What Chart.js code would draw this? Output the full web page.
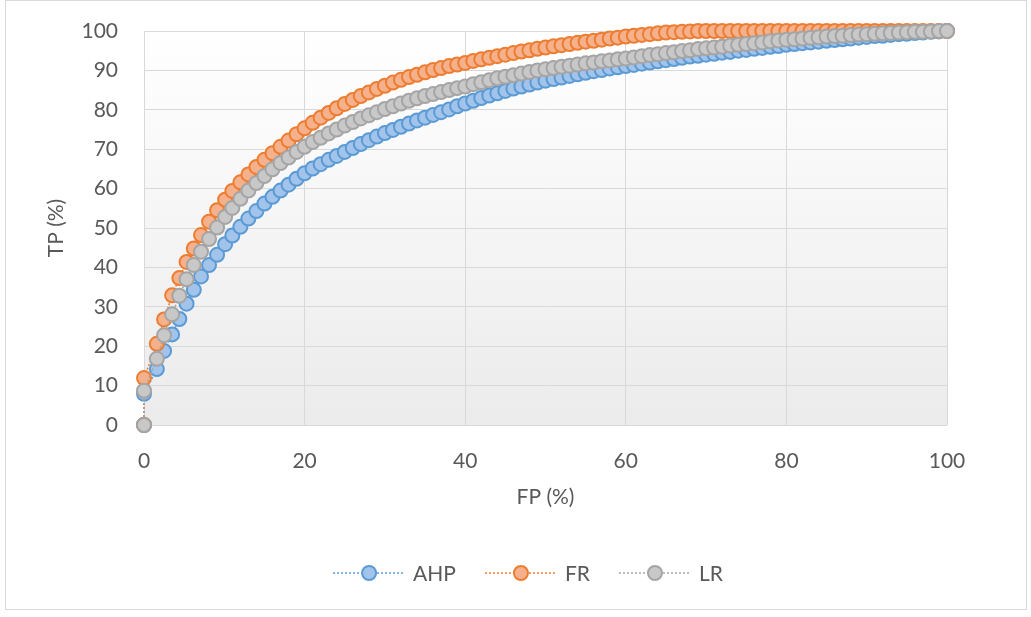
<!DOCTYPE html>
<html>
<head>
<meta charset="utf-8">
<title>ROC</title>
<script src="https://cdn.jsdelivr.net/npm/chart.js@4.4.1/dist/chart.umd.min.js"></script>
<style>
  html, body { margin: 0; padding: 0; background: #ffffff; }
  #wrap { width: 1031px; height: 617px; }
</style>
</head>
<body>
<div id="wrap"><canvas id="rocChart" width="1031" height="617"></canvas></div>
<script>
// false positive rate (%) shared by all three curves
var fp = [0, 0,
  1.6, 2.5, 3.5, 4.4, 5.3, 6.2, 7.1, 8.1, 9.1, 10.1,
  11, 12, 13, 14, 15, 16, 17, 18, 19, 20,
  21, 22, 23, 24, 25, 26, 27, 28, 29, 30,
  31, 32, 33, 34, 35, 36, 37, 38, 39, 40,
  41, 42, 43, 44, 45, 46, 47, 48, 49, 50,
  51, 52, 53, 54, 55, 56, 57, 58, 59, 60,
  61, 62, 63, 64, 65, 66, 67, 68, 69, 70,
  71, 72, 73, 74, 75, 76, 77, 78, 79, 80,
  81, 82, 83, 84, 85, 86, 87, 88, 89, 90,
  91, 92, 93, 94, 95, 96, 97, 98, 99, 100];

// true positive rate (%) per model
var tpAHP = [0, 7.9,
  14.2, 18.8, 23.0, 26.9, 30.8, 34.3, 37.7, 40.6, 43.2, 45.9,
  48.1, 50.3, 52.4, 54.3, 56.2, 57.9, 59.5, 61.0, 62.5, 63.9,
  65.1, 66.2, 67.3, 68.3, 69.3, 70.3, 71.3, 72.3, 73.2, 74.1,
  74.9, 75.7, 76.5, 77.3, 78.0, 78.7, 79.4, 80.1, 80.9, 81.6,
  82.3, 83.0, 83.6, 84.2, 84.8, 85.4, 85.9, 86.4, 86.9, 87.4,
  87.8, 88.2, 88.6, 89.0, 89.4, 89.8, 90.1, 90.5, 90.8, 91.1,
  91.4, 91.7, 92.0, 92.3, 92.6, 92.9, 93.2, 93.5, 93.7, 94.0,
  94.2, 94.5, 94.7, 95.0, 95.2, 95.5, 95.7, 96.0, 96.2, 96.5,
  96.7, 96.9, 97.1, 97.3, 97.5, 97.7, 97.9, 98.1, 98.3, 98.5,
  98.7, 98.8, 99.0, 99.2, 99.3, 99.5, 99.6, 99.8, 99.9, 100];

var tpFR = [0, 11.9,
  20.6, 26.8, 32.9, 37.3, 41.4, 44.8, 48.2, 51.6, 54.5, 57.2,
  59.4, 61.6, 63.6, 65.5, 67.3, 69.0, 70.6, 72.2, 73.8, 75.3,
  76.7, 78.0, 79.2, 80.4, 81.5, 82.5, 83.5, 84.4, 85.3, 86.1,
  86.9, 87.6, 88.3, 88.9, 89.5, 90.1, 90.6, 91.1, 91.5, 91.9,
  92.4, 92.8, 93.2, 93.6, 94.0, 94.4, 94.8, 95.1, 95.5, 95.8,
  96.1, 96.4, 96.7, 97.0, 97.3, 97.5, 97.8, 98.1, 98.3, 98.6,
  98.8, 99.0, 99.2, 99.4, 99.6, 99.7, 99.8, 99.9, 100, 100,
  100, 100, 100, 100, 100, 100, 100, 100, 100, 100,
  100, 100, 100, 100, 100, 100, 100, 100, 100, 100,
  100, 100, 100, 100, 100, 100, 100, 100, 100, 100];

var tpLR = [0, 8.7,
  16.8, 22.8, 28.1, 32.8, 37.0, 40.6, 44.0, 47.2, 50.1, 52.8,
  55.1, 57.4, 59.5, 61.4, 63.2, 64.9, 66.5, 67.9, 69.3, 70.6,
  71.8, 72.9, 74.0, 75.0, 76.0, 76.9, 77.8, 78.6, 79.4, 80.2,
  80.9, 81.6, 82.3, 82.9, 83.5, 84.0, 84.5, 85.0, 85.5, 85.9,
  86.5, 87.0, 87.5, 88.0, 88.4, 88.8, 89.2, 89.6, 90.0, 90.3,
  90.6, 90.9, 91.2, 91.5, 91.8, 92.0, 92.3, 92.5, 92.8, 93.0,
  93.3, 93.6, 93.9, 94.1, 94.4, 94.6, 94.9, 95.1, 95.4, 95.6,
  95.8, 96.0, 96.3, 96.5, 96.7, 96.9, 97.1, 97.4, 97.6, 97.8,
  97.9, 98.1, 98.3, 98.4, 98.6, 98.7, 98.8, 99.0, 99.1, 99.2,
  99.3, 99.4, 99.5, 99.6, 99.7, 99.8, 99.8, 99.9, 100, 100];

var seriesNames = ['AHP', 'FR', 'LR'];
var lineColors = ['#5b9bd5', '#ed7d31', '#a5a5a5'];
var fillColors = ['#a2c3ea', '#f5b08c', '#c8c8c8'];

function pairs(ys) {
  return fp.map(function (x, i) { return { x: x, y: ys[i] }; });
}

Chart.defaults.font.family = 'Lato';
Chart.defaults.font.size = 21;
Chart.defaults.color = '#595959';

// light grey fade behind the plot + thin frame round the whole chart
var backdrop = {
  id: 'backdrop',
  beforeDraw: function (chart) {
    var ctx = chart.ctx, a = chart.chartArea;
    ctx.save();
    var g = ctx.createLinearGradient(0, a.top, 0, a.bottom);
    g.addColorStop(0, '#ffffff');
    g.addColorStop(1, '#ebebeb');
    ctx.fillStyle = g;
    ctx.fillRect(a.left, a.top, a.right - a.left, a.bottom - a.top);
    ctx.strokeStyle = '#d9d9d9';
    ctx.lineWidth = 1;
    ctx.strokeRect(5.5, 0.5, 1021, 609);
    ctx.restore();
  }
};

// legend with a dotted line through each marker
var lineLegend = {
  id: 'lineLegend',
  afterDraw: function (chart) {
    var ctx = chart.ctx;
    var y = 573, lineLen = 72, gapText = 8, gapItem = 29, centre = 528;
    ctx.save();
    ctx.font = '21px Lato';
    ctx.textBaseline = 'middle';
    var widths = chart.data.datasets.map(function (d) { return ctx.measureText(d.label).width; });
    var total = 0;
    widths.forEach(function (w, i) { total += lineLen + gapText + w + (i ? gapItem : 0); });
    var x = centre - total / 2;
    chart.data.datasets.forEach(function (d, i) {
      ctx.strokeStyle = d.borderColor;
      ctx.lineWidth = 1.5;
      ctx.setLineDash([2, 2]);
      ctx.beginPath();
      ctx.moveTo(x, y);
      ctx.lineTo(x + lineLen, y);
      ctx.stroke();
      ctx.setLineDash([]);
      ctx.beginPath();
      ctx.arc(x + lineLen / 2, y, 7, 0, Math.PI * 2);
      ctx.fillStyle = d.pointBackgroundColor;
      ctx.fill();
      ctx.lineWidth = 2;
      ctx.stroke();
      ctx.fillStyle = '#595959';
      ctx.fillText(d.label, x + lineLen + gapText, y + 1);
      x += lineLen + gapText + widths[i] + gapItem;
    });
    ctx.restore();
  }
};

var datasets = [tpAHP, tpFR, tpLR].map(function (ys, i) {
  return {
    label: seriesNames[i],
    data: pairs(ys),
    showLine: true,
    borderColor: lineColors[i],
    borderWidth: 1.5,
    borderDash: [2, 2],
    pointRadius: 7,
    pointHoverRadius: 7,
    pointBorderWidth: 2,
    pointBorderColor: lineColors[i],
    pointBackgroundColor: fillColors[i],
    clip: false,
    order: 3 - i
  };
});

var rocChart = new Chart(document.getElementById('rocChart').getContext('2d'), {
  type: 'scatter',
  data: { datasets: datasets },
  options: {
    responsive: false,
    animation: false,
    devicePixelRatio: 1,
    layout: { padding: { left: 0, top: 31, right: 84, bottom: 92 } },
    plugins: { legend: { display: false }, tooltip: { enabled: false } },
    scales: {
      x: {
        type: 'linear',
        min: 0,
        max: 100,
        afterFit: function (s) { s.height = 100; },
        ticks: { stepSize: 20, padding: 24 },
        grid: { color: '#d9d9d9', drawTicks: false },
        border: { display: false },
        title: { display: true, text: 'FP (%)', padding: { top: 0, bottom: 15 } }
      },
      y: {
        type: 'linear',
        min: 0,
        max: 100,
        afterFit: function (s) {
          s.width = 144;
          s.paddingTop = 0;
          s.paddingBottom = 0;
        },
        ticks: { stepSize: 10, padding: 26 },
        grid: { color: '#d9d9d9', drawTicks: false },
        border: { display: false },
        title: { display: true, text: 'TP (%)', padding: { top: 44, bottom: 0 } }
      }
    }
  },
  plugins: [backdrop, lineLegend]
});
</script>
</body>
</html>
